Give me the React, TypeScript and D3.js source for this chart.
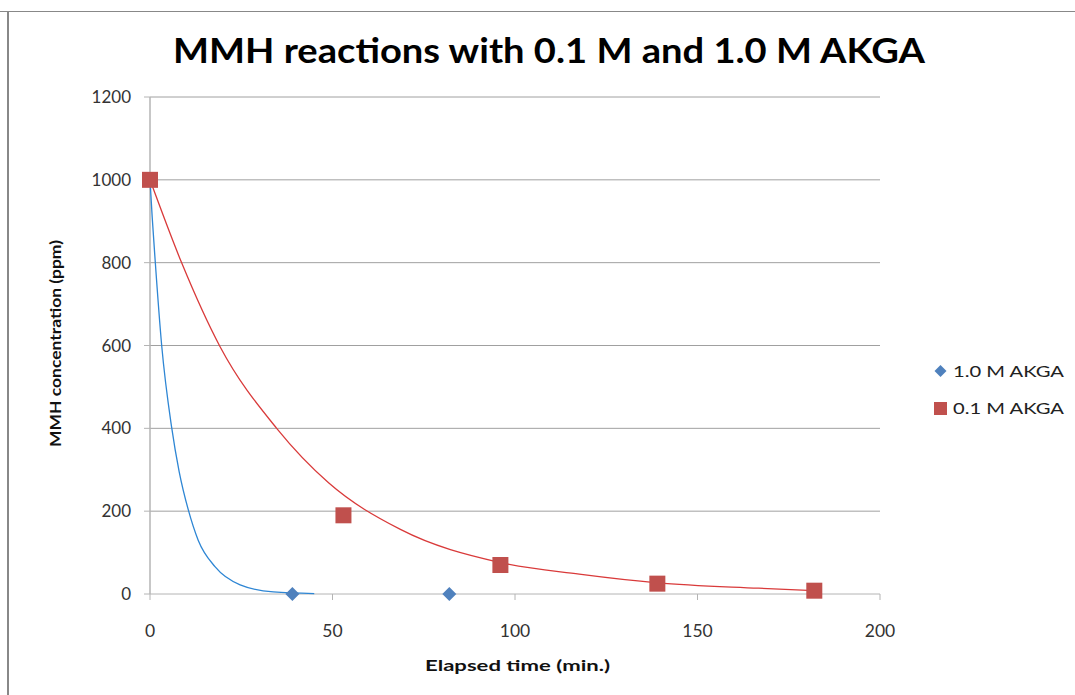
import React from "react";
import * as d3 from "d3";

const title = "MMH reactions with 0.1 M and 1.0 M AKGA";
const xTicks = [0, 50, 100, 150, 200];
const yTicks = [0, 200, 400, 600, 800, 1000, 1200];

// Measured points
const akga10: [number, number][] = [
  [0, 1000],
  [39, 0],
  [82, 0],
];
const akga01: [number, number][] = [
  [0, 1000],
  [53, 190],
  [96, 70],
  [139, 25],
  [182, 8],
];

// Trendline points
const akga10Trend: [number, number][] = [
  [0, 1000],
  [0.6, 910],
  [1.4, 807],
  [3.2, 600],
  [5.9, 404],
  [8, 295],
  [10.5, 203],
  [13.2, 130],
  [17.8, 66],
  [24.7, 22],
  [33.8, 5],
  [45, 1],
];
const akga01Trend: [number, number][] = [
  [0, 1000],
  [8.7, 799],
  [19.2, 597],
  [34.7, 400],
  [49, 268],
  [68.6, 156],
  [96, 76],
  [117.6, 48],
  [139, 27],
  [166.7, 14],
  [182, 8],
];

const seriesNames = ["1.0 M AKGA", "0.1 M AKGA"];

export default function App() {
  const W = 1075;
  const H = 695;
  const left = 150, right = 880, top = 97, bottom = 594;
  const x = d3.scaleLinear().domain([0, 200]).range([left, right]);
  const y = d3.scaleLinear().domain([0, 1200]).range([bottom, top]);
  const line = d3
    .line<[number, number]>()
    .x((d) => x(d[0]))
    .y((d) => y(d[1]))
    .curve(d3.curveMonotoneX);

  const font = "Lato, 'Open Sans', sans-serif";
  const blue = "#4F81BD";
  const red = "#C0504D";
  const diamond = (cx: number, cy: number, r: number) =>
    `M${cx},${cy - r}L${cx + r},${cy}L${cx},${cy + r}L${cx - r},${cy}Z`;

  return (
    <svg
      width={W}
      height={H}
      style={{ position: "absolute", left: 0, top: 0, background: "#fff" }}
      fontFamily={font}
    >
      {/* frame */}
      <line x1={0} x2={W} y1={11.5} y2={11.5} stroke="#888" strokeWidth={1} />
      <line x1={8} x2={8} y1={11} y2={H} stroke="#888" strokeWidth={2} />

      <text
        x={173}
        y={63}
        fontSize={35}
        fontWeight="bold"
        fill="#000"
        textLength={752}
        lengthAdjust="spacingAndGlyphs"
      >
        {title}
      </text>

      {/* gridlines */}
      {yTicks.map((t) => (
        <line
          key={"g" + t}
          x1={left}
          x2={right}
          y1={y(t)}
          y2={y(t)}
          stroke={t === 0 ? "#b4b4b4" : "#a0a0a0"}
          strokeWidth={1}
        />
      ))}
      {/* axes */}
      <line x1={left} x2={left} y1={top} y2={bottom} stroke="#b4b4b4" strokeWidth={1.5} />
      {yTicks.map((t) => (
        <g key={"yt" + t}>
          <line x1={left - 6} x2={left} y1={y(t)} y2={y(t)} stroke="#b4b4b4" />
          <text
            x={131}
            y={y(t) + 6}
            textAnchor="end"
            fontSize={17}
            fill="#333"
          >
            {t}
          </text>
        </g>
      ))}
      {xTicks.map((t) => (
        <g key={"xt" + t}>
          <line x1={x(t)} x2={x(t)} y1={bottom} y2={bottom + 6} stroke="#b4b4b4" />
          <text
            x={x(t)}
            y={637}
            textAnchor="middle"
            fontSize={17.5}
            fill="#333"
          >
            {t}
          </text>
        </g>
      ))}

      <text
        x={425}
        y={671}
        fontSize={16}
        fontWeight="bold"
        fill="#111"
        textLength={185}
        lengthAdjust="spacingAndGlyphs"
      >
        Elapsed time (min.)
      </text>
      <text
        transform={`translate(61,447) rotate(-90)`}
        fontSize={16}
        fontWeight="bold"
        fill="#111"
        textLength={207}
        lengthAdjust="spacingAndGlyphs"
      >
        MMH concentration (ppm)
      </text>

      {/* trendlines */}
      <path d={line(akga01Trend) || ""} fill="none" stroke="#D93A3A" strokeWidth={1.3} />
      <path d={line(akga10Trend) || ""} fill="none" stroke="#2E86D4" strokeWidth={1.3} />

      {/* points */}
      {akga10.map((d, i) => (
        <path key={"b" + i} d={diamond(x(d[0]), y(d[1]), 7)} fill={blue} />
      ))}
      {akga01.map((d, i) => (
        <rect
          key={"r" + i}
          x={x(d[0]) - 8}
          y={y(d[1]) - 8}
          width={16}
          height={16}
          fill={red}
        />
      ))}

      {/* legend */}
      <path d={diamond(940.5, 371, 6)} fill={blue} />
      <text
        x={953}
        y={377}
        fontSize={16}
        fill="#222"
        textLength={111}
        lengthAdjust="spacingAndGlyphs"
      >
        {seriesNames[0]}
      </text>
      <rect x={934} y={402} width={13} height={13} fill={red} />
      <text
        x={953}
        y={414}
        fontSize={16}
        fill="#222"
        textLength={111}
        lengthAdjust="spacingAndGlyphs"
      >
        {seriesNames[1]}
      </text>
    </svg>
  );
}
